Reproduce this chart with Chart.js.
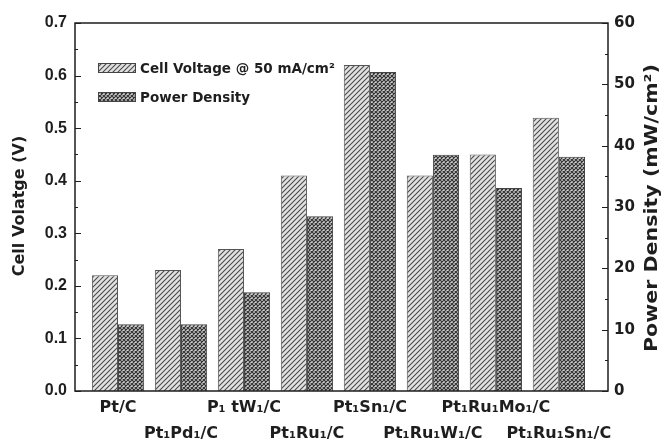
<!DOCTYPE html>
<html>
<head>
<meta charset="utf-8">
<script src="https://cdn.jsdelivr.net/npm/chart.js@4"></script>
<style>
  html, body { margin: 0; padding: 0; background: #fff; }
  #wrap { width: 665px; height: 443px; }
</style>
</head>
<body>
<div id="wrap"><canvas id="chart"></canvas></div>
<script>
// catalysts along the x axis
const catalysts = ["Pt/C", "Pt\u2081Pd\u2081/C", "P\u2081 tW\u2081/C", "Pt\u2081Ru\u2081/C",
    "Pt\u2081Sn\u2081/C", "Pt\u2081Ru\u2081W\u2081/C", "Pt\u2081Ru\u2081Mo\u2081/C", "Pt\u2081Ru\u2081Sn\u2081/C"];
const cellVoltage = [0.22, 0.23, 0.27, 0.41, 0.62, 0.41, 0.45, 0.52];   // V
const powerDensity = [10.9, 10.9, 16.1, 28.5, 52.0, 38.5, 33.1, 38.2]; // mW/cm2
const voltTicks = [0, 0.1, 0.2, 0.3, 0.4, 0.5, 0.6, 0.7];
const powerTicks = [0, 10, 20, 30, 40, 50, 60];

const SANS = "'Liberation Sans', Arial, sans-serif";
const WIDE = "'DejaVu Sans', sans-serif";
const INK = "#1e1e1e";

function hatchPattern() {
    const c = document.createElement("canvas");
    c.width = 5; c.height = 5;
    const g = c.getContext("2d");
    g.fillStyle = "#e2e2e2";
    g.fillRect(0, 0, 5, 5);
    g.strokeStyle = "#4a4a4a";
    g.lineWidth = 1.1;
    g.beginPath();
    g.moveTo(0, 5); g.lineTo(5, 0);
    g.moveTo(-1, 1); g.lineTo(1, -1);
    g.moveTo(4, 6); g.lineTo(6, 4);
    g.stroke();
    return g.createPattern(c, "repeat");
}

function crossPattern() {
    const c = document.createElement("canvas");
    c.width = 4; c.height = 4;
    const g = c.getContext("2d");
    g.fillStyle = "#d0d0d0";
    g.fillRect(0, 0, 4, 4);
    g.strokeStyle = "#333";
    g.lineWidth = 1.2;
    g.beginPath();
    g.moveTo(0, 4); g.lineTo(4, 0);
    g.moveTo(0, 0); g.lineTo(4, 4);
    g.stroke();
    return g.createPattern(c, "repeat");
}

const hatch = hatchPattern();
const cross = crossPattern();

// draw rotated text, stretched along its length to a target span
function vText(ctx, text, x, y, span) {
    ctx.save();
    ctx.translate(x, y);
    ctx.rotate(-Math.PI / 2);
    if (span) ctx.scale(span / ctx.measureText(text).width, 1);
    ctx.fillText(text, 0, 0);
    ctx.restore();
}

// frame, inward ticks, axis titles and legend
const decorations = {
    id: "decorations",
    afterDraw(chart) {
        const { ctx, chartArea: a, scales } = chart;
        ctx.save();
        ctx.strokeStyle = INK;
        ctx.lineWidth = 1.5;
        ctx.strokeRect(a.left, a.top, a.right - a.left, a.bottom - a.top);

        ctx.lineWidth = 1.2;
        ctx.beginPath();
        for (let v = 0; v <= 0.7001; v += 0.05) {
            const y = Math.round(scales.y.getPixelForValue(v)) + 0.5;
            const major = Math.round(v * 100) % 10 === 0;
            ctx.moveTo(a.left, y); ctx.lineTo(a.left + (major ? 6 : 3), y);
        }
        for (let v = 0; v <= 60; v += 5) {
            const y = Math.round(scales.y1.getPixelForValue(v)) + 0.5;
            const major = v % 10 === 0;
            ctx.moveTo(a.right, y); ctx.lineTo(a.right - (major ? 6 : 3), y);
        }
        ctx.stroke();

        ctx.fillStyle = INK;
        ctx.textAlign = "center";
        ctx.textBaseline = "middle";
        ctx.font = "bold 16px " + WIDE;
        vText(ctx, "Cell Volatge (V)", 20, 206);
        ctx.font = "bold 17px " + WIDE;
        vText(ctx, "Power Density (mW/cm\u00b2)", 653, 208, 288);

        const items = [
            { fill: hatch, text: "Cell Voltage @ 50 mA/cm\u00b2", y: 63 },
            { fill: cross, text: "Power Density", y: 92 }
        ];
        ctx.font = "bold 13.5px " + WIDE;
        ctx.textAlign = "left";
        items.forEach(it => {
            ctx.fillStyle = it.fill;
            ctx.fillRect(98, it.y, 38, 10);
            ctx.strokeStyle = "#444";
            ctx.lineWidth = 1;
            ctx.strokeRect(98.5, it.y + 0.5, 37, 9);
            ctx.fillStyle = INK;
            ctx.fillText(it.text, 140, it.y + 6);
        });
        ctx.restore();
    }
};

new Chart(document.getElementById("chart"), {
    type: "bar",
    data: {
        datasets: [{
            label: "Cell Voltage @ 50 mA/cm\u00b2",
            data: cellVoltage.map((v, i) => ({ x: i, y: v })),
            yAxisID: "y",
            backgroundColor: hatch,
            borderColor: "#555",
            borderWidth: 1,
            borderSkipped: "bottom"
        }, {
            label: "Power Density",
            data: powerDensity.map((v, i) => ({ x: i, y: v })),
            yAxisID: "y1",
            backgroundColor: cross,
            borderColor: "#444",
            borderWidth: 1,
            borderSkipped: "bottom"
        }]
    },
    options: {
        responsive: true,
        maintainAspectRatio: false,
        animation: false,
        layout: { padding: { top: 23, left: 0, right: 0, bottom: 0 } },
        datasets: { bar: { categoryPercentage: 0.83, barPercentage: 1 } },
        plugins: { legend: { display: false }, tooltip: { enabled: false } },
        scales: {
            x: {
                type: "linear",
                offset: false,
                min: -0.683,
                max: 7.78,
                grid: { display: false, drawTicks: false },
                border: { display: false },
                afterBuildTicks: s => { s.ticks = catalysts.map((_, i) => ({ value: i })); },
                afterFit: s => { s.height = 52; },
                ticks: {
                    autoSkip: false,
                    maxRotation: 0,
                    padding: 4,
                    color: INK,
                    font: { family: WIDE, size: 16, weight: "bold", lineHeight: 1.6 },
                    callback: (v, i) => (i % 2 === 0 ? catalysts[i] : ["", catalysts[i]])
                }
            },
            y: {
                position: "left",
                min: 0,
                max: 0.7,
                grid: { display: false, drawTicks: false },
                border: { display: false },
                afterBuildTicks: s => { s.ticks = voltTicks.map(v => ({ value: v })); },
                afterFit: s => { s.width = 75; },
                ticks: {
                    padding: 8,
                    color: INK,
                    font: { family: SANS, size: 16, weight: "bold" },
                    callback: v => v.toFixed(1)
                }
            },
            y1: {
                position: "right",
                min: 0,
                max: 60,
                grid: { display: false, drawTicks: false },
                border: { display: false },
                afterBuildTicks: s => { s.ticks = powerTicks.map(v => ({ value: v })); },
                afterFit: s => { s.width = 57; },
                ticks: {
                    padding: 6,
                    color: INK,
                    font: { family: WIDE, size: 15, weight: "bold" }
                }
            }
        }
    },
    plugins: [decorations]
});
</script>
</body>
</html>
